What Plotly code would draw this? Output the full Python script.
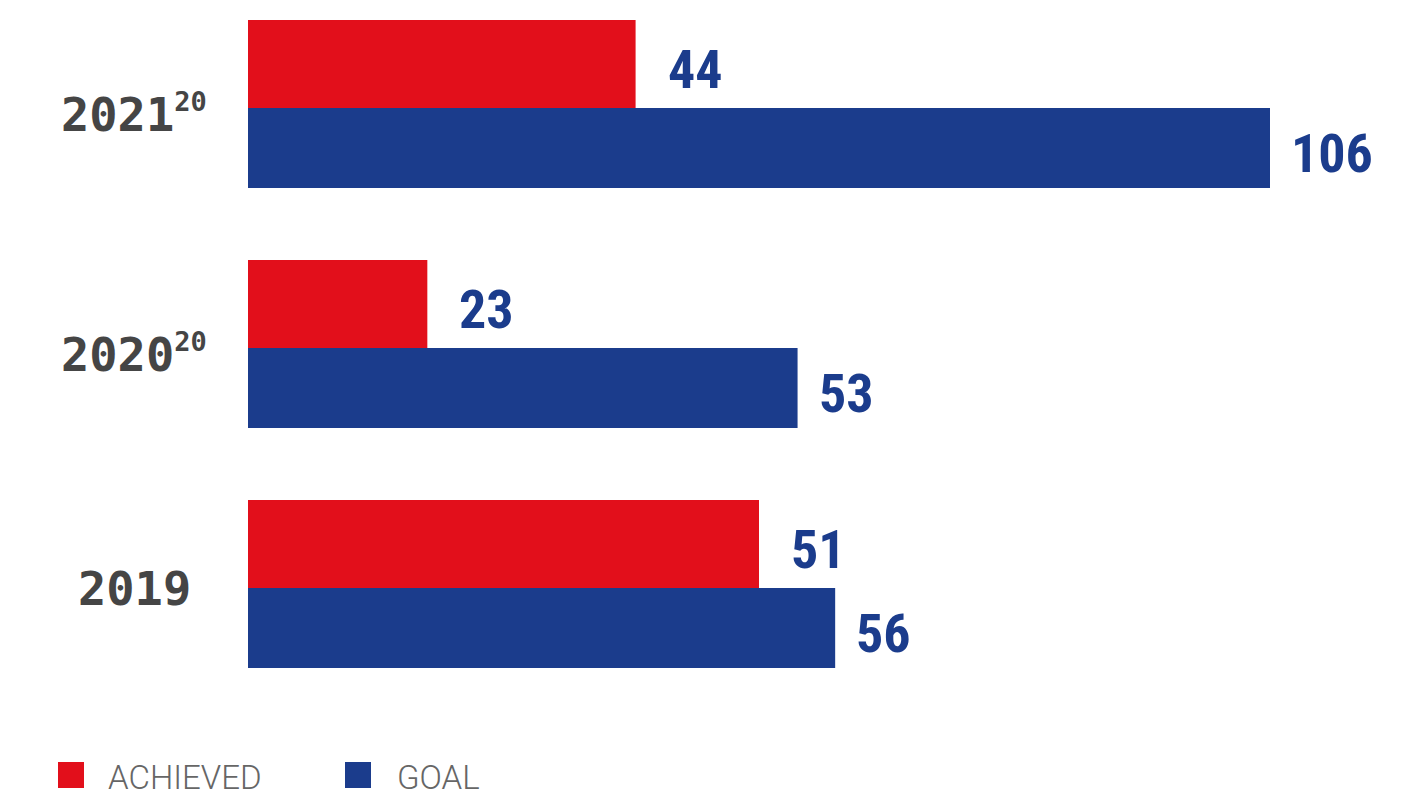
import plotly.graph_objects as go

# ---- data ----
categories = ["2019", "2020<sup>20</sup>", "2021<sup>20</sup>"]
achieved_values = [51, 23, 44]
goal_values = [56, 53, 106]
# bar lengths as drawn in the reference (bars are not drawn to scale of their labels)
achieved_lengths = [53.0, 18.6, 40.2]
goal_lengths = [60.9, 57.0, 106.0]
legend_names = ["ACHIEVED", "GOAL"]

RED = "#E20F1B"
BLUE = "#1B3C8C"

OFF = 8  # page body margin
W, H = 1424 - OFF, 791 - OFF
L, R, T = 248 - OFF, 24, 0
PW, PH = W - L - R, 688
RED_H, BLUE_H, STEP = 88, 80, 240


def px_x(x):
    return (x - OFF - L) / PW


def px_y(y):
    return (PH - (y - OFF)) / PH


value_font = dict(family="Roboto Condensed, Liberation Sans Narrow, Roboto", size=54, color=BLUE, weight="bold")

fig = go.Figure()
fig.add_trace(go.Bar(
    y=list(range(len(categories))), x=achieved_lengths, orientation="h", name=legend_names[0],
    marker=dict(color=RED, line=dict(width=0)),
    offset=0, width=RED_H / STEP, hoverinfo="skip",
))
fig.add_trace(go.Bar(
    y=list(range(len(categories))), x=goal_lengths, orientation="h", name=legend_names[1],
    marker=dict(color=BLUE, line=dict(width=0)),
    offset=-BLUE_H / STEP, width=BLUE_H / STEP, hoverinfo="skip",
))

annotations = []
# value labels
for i in range(len(categories)):
    annotations.append(dict(
        x=achieved_lengths[i], y=i, xref="x", yref="y", text=str(achieved_values[i]),
        showarrow=False, xanchor="left", yanchor="middle",
        xshift=30, yshift=RED_H / 2 - 5, font=value_font,
    ))
    annotations.append(dict(
        x=goal_lengths[i], y=i, xref="x", yref="y", text=str(goal_values[i]),
        showarrow=False, xanchor="left", yanchor="middle",
        xshift=19, yshift=-BLUE_H / 2 - 5, font=value_font,
    ))

# category labels
for i, c in enumerate(categories):
    has_sup = "<sup>" in c
    label = c.replace("<sup>", "<sup><span style='font-size:27px'>").replace("</sup>", "</span></sup>")
    annotations.append(dict(
        x=px_x(134), xref="paper", y=i, yref="y", text=label, showarrow=False,
        xanchor="center", yanchor="middle", yshift=-6 if has_sup else 0,
        font=dict(family="DejaVu Sans Mono", size=47, color="#454545", weight="bold"),
    ))

shapes = []
legend_items = [(legend_names[0], RED, 58, 108), (legend_names[1], BLUE, 345, 397)]
for name, col, sx, tx in legend_items:
    shapes.append(dict(type="rect", xref="paper", yref="paper",
                       x0=px_x(sx), x1=px_x(sx + 26), y0=px_y(788), y1=px_y(762),
                       fillcolor=col, line=dict(width=0)))
    annotations.append(dict(
        x=px_x(tx), xref="paper", y=px_y(777), yref="paper", text=name, showarrow=False,
        xanchor="left", yanchor="middle", xshift=-2,
        font=dict(family="Roboto", size=33, color="#666666", weight=300),
    ))

fig.update_layout(
    width=W, height=H,
    margin=dict(l=L, r=R, t=T, b=H - PH, pad=0),
    paper_bgcolor="white", plot_bgcolor="white",
    barmode="overlay", showlegend=False,
    xaxis=dict(range=[0, PW / (1022 / 106)], visible=False, fixedrange=True),
    yaxis=dict(range=[-0.45, 2 + 100 / STEP], showticklabels=False, showgrid=False,
               zeroline=False, showline=False, ticks="", fixedrange=True),
    annotations=annotations, shapes=shapes,
)

fig.write_html("out.html")
